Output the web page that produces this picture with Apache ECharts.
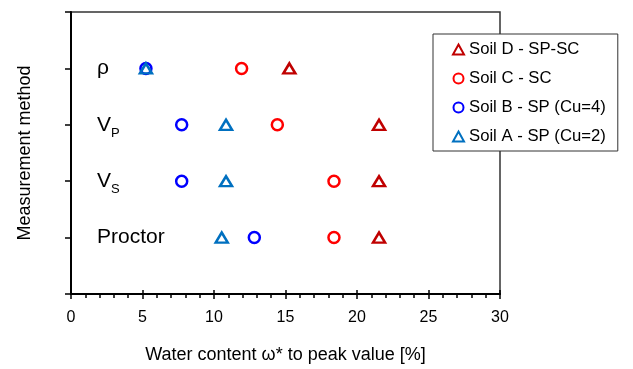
<!DOCTYPE html>
<html>
<head>
<meta charset="utf-8">
<script src="https://cdn.jsdelivr.net/npm/echarts@6/dist/echarts.min.js"></script>
<style>html,body{margin:0;padding:0;background:#fff;}#c{width:633px;height:369px;}</style>
</head>
<body>
<div id="c"></div>
<script>
// Measurement methods, bottom to top (y positions 1..4)
const methods = ['Proctor', 'V_S', 'V_P', 'ρ'];
const methodY = [1, 2, 3, 4];
// Water content to peak value [%], per method (Proctor, V_S, V_P, ρ)
const soilD = [21.54, 21.54, 21.54, 15.27];
const soilC = [18.39, 18.39, 14.43, 11.93];
const soilB = [12.82, 7.74, 7.74, 5.24];
const soilA = [10.54, 10.84, 10.84, 5.24];
const seriesNames = ['Soil D - SP-SC', 'Soil C - SC', 'Soil B - SP (Cu=4)', 'Soil A - SP (Cu=2)'];
const xTicks = [0, 5, 10, 15, 20, 25, 30];

const FONT = 'Liberation Sans, Arial, sans-serif';

function pairs(vals) { return vals.map((v, i) => [v, methodY[i]]); }

const labelMap = {
  1: '{n|Proctor}',
  2: '{n|V}{s|S}',
  3: '{n|V}{s|P}',
  4: '{n|ρ}'
};

function mk(name, vals, symbol, color, size) {
  return {
    name: name, type: 'scatter', data: pairs(vals), symbol: symbol, symbolSize: size,
    itemStyle: { color: 'rgba(255,255,255,0)', borderColor: color, borderWidth: 2.5, opacity: 1 },
    emphasis: { disabled: true }, animation: false
  };
}

const chart = echarts.init(document.getElementById('c'), null, { renderer: 'canvas' });
chart.setOption({
  animation: false,
  textStyle: { fontFamily: FONT },
  grid: { left: 71, right: 133, top: 12, bottom: 74, show: true, borderColor: '#333', borderWidth: 1.5, backgroundColor: 'transparent' },
  legend: {
    orient: 'vertical', left: 433, top: 34,
    data: seriesNames,
    backgroundColor: '#fff', borderColor: '#333', borderWidth: 1,
    padding: [7, 12, 6, 19], itemGap: 12, itemWidth: 11, itemHeight: 10, itemTextGap: 8,
    textStyle: { fontSize: 16.7, color: '#000', fontFamily: FONT },
    selectedMode: false
  },
  xAxis: [{
    type: 'value', min: xTicks[0], max: xTicks[xTicks.length - 1], interval: 5,
    name: 'Water content ω* to peak value [%]', nameLocation: 'middle', nameGap: 52,
    nameTextStyle: { fontSize: 18, color: '#000', fontFamily: FONT },
    axisLine: { show: true, onZero: false, lineStyle: { color: '#000', width: 2 } },
    axisTick: { show: true, length: 5, lineStyle: { color: '#000', width: 1.5 } },
    minorTick: { show: true, splitNumber: 5, length: 4, lineStyle: { color: '#000', width: 1.5 } },
    axisLabel: { fontSize: 16, color: '#000', margin: 16, fontFamily: FONT },
    splitLine: { show: false }
  }, {
    type: 'value', min: xTicks[0], max: xTicks[xTicks.length - 1], interval: 5, position: 'bottom',
    axisLine: { show: false },
    axisTick: { show: true, inside: true, length: 4, lineStyle: { color: '#000', width: 1.5 } },
    axisLabel: { show: false }, splitLine: { show: false }
  }],
  yAxis: {
    type: 'value', min: 0, max: 5, interval: 1,
    name: 'Measurement method', nameLocation: 'middle', nameGap: 37,
    nameTextStyle: { fontSize: 18, color: '#000', fontFamily: FONT },
    axisLine: { show: true, onZero: false, lineStyle: { color: '#000', width: 2 } },
    axisTick: { show: true, length: 6, lineStyle: { color: '#000', width: 1.5 } },
    axisLabel: {
      inside: true, margin: 26, color: '#000', fontFamily: FONT,
      formatter: v => labelMap[v] || '',
      rich: {
        n: { fontSize: 21, color: '#000', fontFamily: FONT, verticalAlign: 'middle', lineHeight: 30 },
        s: { fontSize: 13, color: '#000', fontFamily: FONT, verticalAlign: 'bottom', lineHeight: 12 }
      }
    },
    splitLine: { show: false }
  },
  series: [
    mk(seriesNames[0], soilD, 'triangle', '#C00000', [12, 10]),
    mk(seriesNames[1], soilC, 'circle', '#FF0000', 11),
    mk(seriesNames[2], soilB, 'circle', '#0000FF', 11),
    mk(seriesNames[3], soilA, 'triangle', '#0070C0', [12, 10])
  ]
});
</script>
</body>
</html>
